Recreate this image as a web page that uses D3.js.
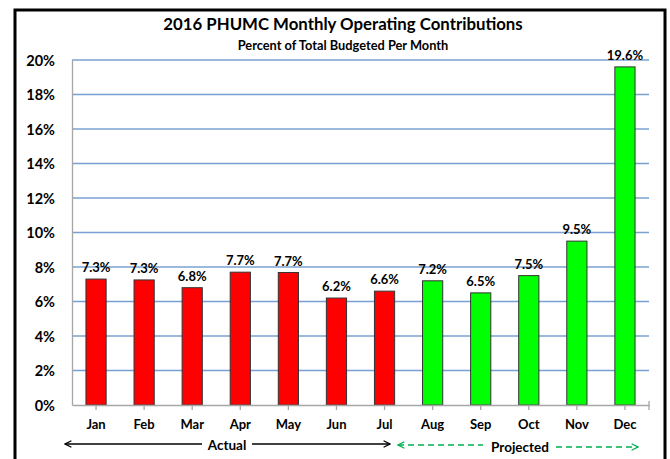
<!DOCTYPE html>
<html>
<head>
<meta charset="utf-8">
<script src="https://cdn.jsdelivr.net/npm/d3@7"></script>
<style>
  body { margin: 0; background: #fff; }
  svg text { font-family: Lato, "Open Sans", sans-serif; font-weight: bold; fill: #000; }
</style>
</head>
<body>
<div id="chart"></div>
<script>
// chart data
const months = ["Jan", "Feb", "Mar", "Apr", "May", "Jun", "Jul", "Aug", "Sep", "Oct", "Nov", "Dec"];
const percentValues = [7.3, 7.25, 6.8, 7.7, 7.68, 6.2, 6.6, 7.2, 6.5, 7.5, 9.5, 19.6];
const valueLabels = ["7.3%", "7.3%", "6.8%", "7.7%", "7.7%", "6.2%", "6.6%", "7.2%", "6.5%", "7.5%", "9.5%", "19.6%"];
const actualMonths = ["Jan", "Feb", "Mar", "Apr", "May", "Jun", "Jul"];
const yTicks = [0, 2, 4, 6, 8, 10, 12, 14, 16, 18, 20];

const W = 670, H = 459;
const plot = { left: 72, right: 649, top: 60, bottom: 405 };

const svg = d3.select("#chart").append("svg")
  .attr("width", W).attr("height", H);

// outer frame
svg.append("rect")
  .attr("x", 15).attr("y", 10)
  .attr("width", 650).attr("height", 470)
  .attr("fill", "none").attr("stroke", "#000").attr("stroke-width", 3);

const x = d3.scaleBand().domain(months).range([plot.left, plot.right]).paddingInner(0.58).paddingOuter(0.29);
const band = d3.scaleBand().domain(months).range([plot.left, plot.right]);
const y = d3.scaleLinear().domain([0, 20]).range([plot.bottom, plot.top]);

// gridlines
svg.append("g")
  .selectAll("line")
  .data(yTicks.filter(d => d > 0))
  .join("line")
  .attr("x1", plot.left).attr("x2", plot.right)
  .attr("y1", d => y(d)).attr("y2", d => y(d))
  .attr("stroke", "#7aa0d2").attr("stroke-width", 1.3);

// y axis
const yAxis = svg.append("g")
  .attr("transform", `translate(${plot.left},0)`)
  .call(d3.axisLeft(y).tickValues(yTicks).tickFormat(d => d + "%").tickSize(0).tickPadding(17));
yAxis.select(".domain").attr("stroke", "#a6a6a6").attr("stroke-width", 1.3);
yAxis.selectAll("text").style("font-size", "14.5px").attr("dy", "0.36em");

// bars
svg.append("g")
  .selectAll("rect")
  .data(months)
  .join("rect")
  .attr("x", d => x(d))
  .attr("y", (d, i) => y(percentValues[i]))
  .attr("width", x.bandwidth())
  .attr("height", (d, i) => y(0) - y(percentValues[i]))
  .attr("fill", d => actualMonths.includes(d) ? "#ff0000" : "#00ff00")
  .attr("stroke", "#333").attr("stroke-width", 1);

// value labels
svg.append("g")
  .selectAll("text")
  .data(months)
  .join("text")
  .attr("x", d => x(d) + x.bandwidth() / 2)
  .attr("y", (d, i) => y(percentValues[i]) - 7)
  .attr("text-anchor", "middle")
  .style("font-size", "13px")
  .text((d, i) => valueLabels[i]);

// x axis
const xAxis = svg.append("g")
  .attr("transform", `translate(0,${plot.bottom})`)
  .call(d3.axisBottom(band).tickSize(5).tickSizeOuter(0).tickPadding(10));
xAxis.select(".domain").attr("stroke", "#a6a6a6").attr("stroke-width", 1.3);
xAxis.selectAll(".tick line").attr("stroke", "#a6a6a6").attr("stroke-width", 1.3);
xAxis.selectAll("text").style("font-size", "13px");
xAxis.append("line")
  .attr("x1", plot.right).attr("x2", plot.right)
  .attr("y1", -4).attr("y2", 5)
  .attr("stroke", "#a6a6a6").attr("stroke-width", 1.3);

// titles
svg.append("text")
  .attr("x", 343).attr("y", 30)
  .attr("text-anchor", "middle")
  .style("font-size", "16.8px")
  .text("2016 PHUMC Monthly Operating Contributions");
svg.append("text")
  .attr("x", 343).attr("y", 50)
  .attr("text-anchor", "middle")
  .style("font-size", "12.8px")
  .text("Percent of Total Budgeted Per Month");

// Actual / Projected arrows
const defs = svg.append("defs");
function marker(id, color) {
  defs.append("marker")
    .attr("id", id).attr("viewBox", "0 0 10 10")
    .attr("refX", 9).attr("refY", 5)
    .attr("markerWidth", 8).attr("markerHeight", 8)
    .attr("markerUnits", "userSpaceOnUse")
    .attr("orient", "auto-start-reverse")
    .append("path")
    .attr("d", "M1,1 L9,5 L1,9")
    .attr("fill", "none").attr("stroke", color).attr("stroke-width", 1.6);
}
marker("arrBlack", "#000");
marker("arrGreen", "#00b050");

const arrowY = 444;
svg.append("line")
  .attr("x1", 65).attr("x2", 202).attr("y1", arrowY).attr("y2", arrowY)
  .attr("stroke", "#000").attr("stroke-width", 1.3)
  .attr("marker-start", "url(#arrBlack)");
svg.append("line")
  .attr("x1", 252).attr("x2", 390).attr("y1", arrowY).attr("y2", arrowY)
  .attr("stroke", "#000").attr("stroke-width", 1.3)
  .attr("marker-end", "url(#arrBlack)");
svg.append("text")
  .attr("x", 227).attr("y", arrowY + 6)
  .attr("text-anchor", "middle").style("font-size", "13.5px")
  .text("Actual");

svg.append("line")
  .attr("x1", 398).attr("x2", 483).attr("y1", arrowY + 1).attr("y2", arrowY + 1)
  .attr("stroke", "#00b050").attr("stroke-width", 1.6).attr("stroke-dasharray", "6,4")
  .attr("marker-start", "url(#arrGreen)");
svg.append("line")
  .attr("x1", 556).attr("x2", 638).attr("y1", arrowY + 3).attr("y2", arrowY + 3)
  .attr("stroke", "#00b050").attr("stroke-width", 1.6).attr("stroke-dasharray", "6,4")
  .attr("marker-end", "url(#arrGreen)");
svg.append("text")
  .attr("x", 520).attr("y", arrowY + 8)
  .attr("text-anchor", "middle").style("font-size", "13.5px")
  .text("Projected");
</script>
</body>
</html>
